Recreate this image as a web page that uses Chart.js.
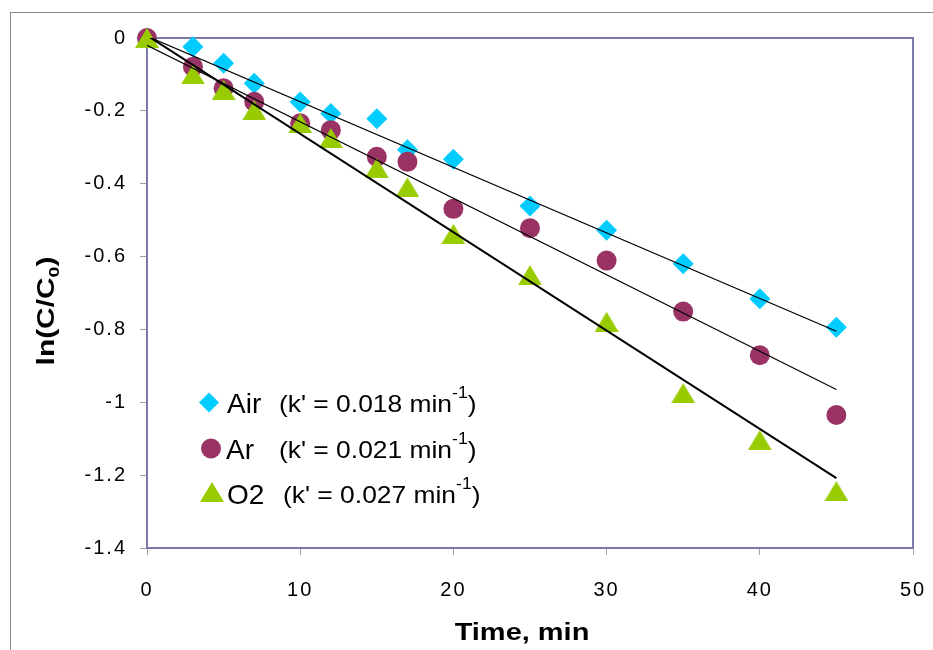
<!DOCTYPE html>
<html>
<head>
<meta charset="utf-8">
<script src="https://cdn.jsdelivr.net/npm/chart.js@4/dist/chart.umd.min.js"></script>
<style>
  html, body { margin: 0; padding: 0; background: #ffffff; }
  canvas { display: block; }
</style>
</head>
<body>
<canvas id="chart" width="933" height="650"></canvas>
<script>
// Sampling times (min)
const times = [0, 3, 5, 7, 10, 12, 15, 17, 20, 25, 30, 35, 40, 45];

// ln(C/C0) for each atmosphere
const airValues = [0, -0.024, -0.069, -0.124, -0.176, -0.207, -0.222, -0.307, -0.333, -0.461, -0.528, -0.620, -0.716, -0.794];
const arValues  = [0, -0.079, -0.138, -0.175, -0.234, -0.253, -0.326, -0.340, -0.469, -0.522, -0.611, -0.751, -0.871, -1.035];
const o2Values  = [0, -0.100, -0.143, -0.198, -0.234, -0.275, -0.357, -0.410, -0.538, -0.651, -0.779, -0.975, -1.104, -1.244];

// Pseudo-first-order fits: ln(C/C0) = b - k' t
const seriesNames    = ['Air', 'Ar', 'O2'];
const rateConstants  = [0.018, 0.021, 0.027];
const fitIntercepts  = [0.005, -0.020, 0.007];
const fitRange       = [0, 45];

// Axis ticks
const xTickValues = [0, 10, 20, 30, 40, 50];
const xTickLabels = ['0', '10', '20', '30', '40', '50'];
const yTickValues = [0, -0.2, -0.4, -0.6, -0.8, -1, -1.2, -1.4];
const yTickLabels = ['0', '-0.2', '-0.4', '-0.6', '-0.8', '-1', '-1.2', '-1.4'];

const COLORS = { Air: '#00CCFF', Ar: '#993366', O2: '#99CC00' };
const FONT = '"Liberation Sans", Arial, sans-serif';

// Triangle marker whose bounding box is centred on the data point
function triangleMarker(w, h, color) {
  const c = document.createElement('canvas');
  c.width = w; c.height = h;
  const g = c.getContext('2d');
  g.fillStyle = color;
  g.beginPath();
  g.moveTo(w / 2, 0);
  g.lineTo(w, h);
  g.lineTo(0, h);
  g.closePath();
  g.fill();
  return c;
}
const o2Marker = triangleMarker(24, 20, COLORS.O2);

const toPoints = (vals) => times.map((t, i) => ({ x: t, y: vals[i] }));
const fitLine = (i) => fitRange.map(t => ({ x: t, y: fitIntercepts[i] - rateConstants[i] * t }));

// Draws a sequence of text runs (different sizes / offsets) with horizontal stretch
function drawRuns(ctx, runs, x, y, sx, align) {
  let total = 0;
  runs.forEach(r => { ctx.font = r.font; r.w = ctx.measureText(r.t).width * sx; total += r.w; });
  let cx = align === 'center' ? x - total / 2 : x;
  ctx.textAlign = 'left';
  ctx.textBaseline = 'alphabetic';
  runs.forEach(r => {
    ctx.save();
    ctx.font = r.font;
    ctx.translate(cx, y + (r.dy || 0));
    ctx.scale(sx, 1);
    ctx.fillText(r.t, 0, 0);
    ctx.restore();
    cx += r.w;
  });
}

const decorations = {
  id: 'decorations',
  beforeDraw(chart) {
    const ctx = chart.ctx;
    ctx.save();
    ctx.fillStyle = '#ffffff';
    ctx.fillRect(0, 0, chart.width, chart.height);
    ctx.strokeStyle = '#8a8a8a';
    ctx.lineWidth = 1;
    ctx.strokeRect(10.5, 12.5, chart.width + 20, chart.height + 20);
    ctx.restore();
    // wider tick lettering for the axes
    ctx.letterSpacing = '2px';
  },
  beforeDatasetsDraw(chart) {
    const { ctx, chartArea: a } = chart;
    ctx.letterSpacing = '0px';
    ctx.save();
    ctx.strokeStyle = '#7a7aac';
    ctx.lineWidth = 2;
    ctx.strokeRect(a.left, a.top, a.right - a.left, a.bottom - a.top);
    ctx.restore();
  },
  afterDraw(chart) {
    const ctx = chart.ctx;
    ctx.save();
    ctx.fillStyle = '#000000';

    // x-axis title
    drawRuns(ctx, [{ t: 'Time, min', font: 'bold 23px ' + FONT }], 522, 640, 1.26, 'center');

    // y-axis title with subscript
    ctx.save();
    ctx.translate(54, 311);
    ctx.rotate(-Math.PI / 2);
    drawRuns(ctx, [
      { t: 'ln(C/C', font: 'bold 23px ' + FONT },
      { t: '0', font: 'bold 15px ' + FONT, dy: 5 },
      { t: ')', font: 'bold 23px ' + FONT }
    ], 0, 0, 1.3, 'center');
    ctx.restore();

    // Legend block
    const entries = [
      { name: 'Air', mx: 209, my: 402.5, nameX: 227, base: 413, kX: 279 },
      { name: 'Ar',  mx: 211, my: 448.5, nameX: 226, base: 459, kX: 279 },
      { name: 'O2',  mx: 212, my: 492,   nameX: 227, base: 504, kX: 283 }
    ];
    entries.forEach((e, i) => {
      if (e.name === 'O2') {
        ctx.drawImage(o2Marker, e.mx - o2Marker.width / 2, e.my - o2Marker.height / 2);
      } else {
        ctx.fillStyle = COLORS[e.name];
        Chart.helpers.drawPoint(ctx, {
          pointStyle: e.name === 'Air' ? 'rectRot' : 'circle',
          radius: 10,
          borderWidth: 0, rotation: 0
        }, e.mx, e.my);
      }
      ctx.fillStyle = '#000000';
      drawRuns(ctx, [{ t: seriesNames[i], font: '28px ' + FONT }], e.nameX, e.base, 1.0, 'left');
      drawRuns(ctx, [
        { t: "(k' = " + rateConstants[i].toFixed(3) + ' min', font: '24px ' + FONT },
        { t: '-1', font: '16px ' + FONT, dy: -14 },
        { t: ')', font: '24px ' + FONT }
      ], e.kX, e.base - 1, 1.1, 'left');
    });
    ctx.restore();
  }
};

new Chart(document.getElementById('chart'), {
  type: 'scatter',
  data: {
    datasets: [
      { label: 'Air fit', data: fitLine(0), showLine: true, borderColor: '#000000', borderWidth: 1.2, pointRadius: 0, order: 0 },
      { label: 'Ar fit',  data: fitLine(1), showLine: true, borderColor: '#000000', borderWidth: 1.2, pointRadius: 0, order: 0 },
      { label: 'O2 fit',  data: fitLine(2), showLine: true, borderColor: '#000000', borderWidth: 2,   pointRadius: 0, order: 0 },
      { label: 'O2',  data: toPoints(o2Values),  pointStyle: o2Marker, pointRadius: 12, backgroundColor: COLORS.O2, borderWidth: 0, clip: false, order: 1 },
      { label: 'Ar',  data: toPoints(arValues),  pointStyle: 'circle', pointRadius: 10, backgroundColor: COLORS.Ar, borderWidth: 0, clip: false, order: 2 },
      { label: 'Air', data: toPoints(airValues), pointStyle: 'rectRot', pointRadius: 10.5, backgroundColor: COLORS.Air, borderWidth: 0, clip: false, order: 3 }
    ]
  },
  options: {
    responsive: false,
    animation: false,
    events: [],
    devicePixelRatio: 1,
    layout: { padding: { top: 38, right: 20, left: 0, bottom: 0 } },
    plugins: { legend: { display: false }, tooltip: { enabled: false } },
    scales: {
      x: {
        type: 'linear', min: 0, max: 50,
        afterBuildTicks: s => { s.ticks = xTickValues.map(v => ({ value: v })); },
        afterFit: s => { s.height = 102; s.paddingLeft = 0; s.paddingRight = 0; },
        ticks: {
          callback: (v, i) => xTickLabels[i],
          font: { family: FONT, size: 20 }, color: '#000000',
          padding: 23, maxRotation: 0, autoSkip: false
        },
        grid: { drawOnChartArea: false, drawTicks: true, tickLength: 7, color: '#a0a0a0', lineWidth: 1 },
        border: { display: false }
      },
      y: {
        type: 'linear', min: -1.4, max: 0,
        afterBuildTicks: s => { s.ticks = yTickValues.map(v => ({ value: v })); },
        afterFit: s => { s.width = 147; s.paddingTop = 0; s.paddingBottom = 0; },
        ticks: {
          callback: (v, i) => yTickLabels[i],
          font: { family: FONT, size: 20 }, color: '#000000',
          padding: 13, autoSkip: false
        },
        grid: { drawOnChartArea: false, drawTicks: true, tickLength: 7, color: '#a0a0a0', lineWidth: 1 },
        border: { display: false }
      }
    }
  },
  plugins: [decorations]
});
</script>
</body>
</html>
